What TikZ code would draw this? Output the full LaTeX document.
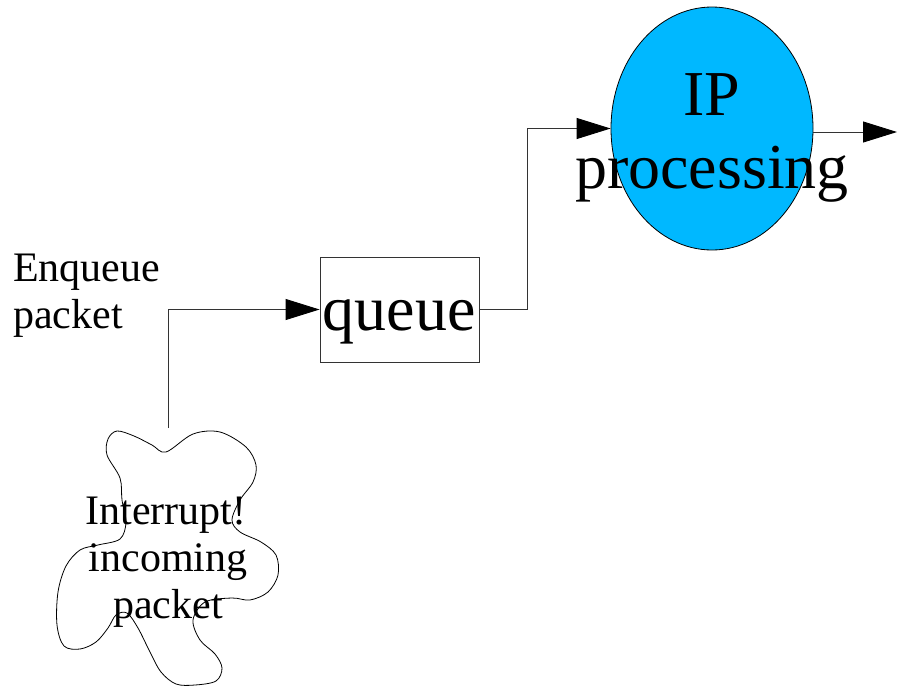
\documentclass[tikz,border=0pt]{standalone}
\usepackage{fontspec}
\setmainfont{Liberation Serif}
\usetikzlibrary{arrows.meta,shapes.geometric}
\definecolor{ipblue}{RGB}{0,184,255}
\begin{document}
\begin{tikzpicture}[x=1pt,y=-1pt,
  bigtext/.style={font=\fontsize{64}{74}\selectfont, inner sep=0pt, anchor=base},
  smalltext/.style={font=\fontsize{42}{47}\selectfont, inner sep=0pt, anchor=base},
  flow/.style={draw=black!80, line width=0.9pt, -{Triangle[length=34pt,width=21pt,color=black,fill=black]}},
  plainflow/.style={draw=black!80, line width=0.9pt}]
\useasboundingbox (0,0) rectangle (897,686);

% processing stage
\node[ellipse, draw=black, line width=0.8pt, fill=ipblue, minimum width=202pt, minimum height=243pt, inner sep=0pt] (ip) at (712,128.5) {};
\node[bigtext] (iplabel1) at (712,115) {IP};
\node[bigtext] (iplabel2) at (712,188) {processing};

% queue box
\node[draw=black!80, line width=0.9pt, minimum width=159pt, minimum height=105pt, inner sep=0pt] (queue) at (399.5,309.5) {};
\node[bigtext] (queuelabel) at (399,330) {queue};

% annotation
\node[smalltext, anchor=base west] (enq1) at (13,281.5) {Enqueue};
\node[smalltext, anchor=base west] (enq2) at (13,328) {packet};

% interrupt cloud
\draw[black, line width=0.8pt] plot[smooth cycle, tension=0.55] coordinates {
  (166,452) (193,434) (220,432) (246,447) (256,465) (253,482) (240,500)
  (232,520) (240,532) (261,542) (276,555) (278,575) (268,592) (250,600)
  (232,598) (205,602) (193,620) (200,640) (215,654) (222,668) (216,681)
  (195,685) (176,684) (161,672) (150,652) (138,628) (127,613) (116,615)
  (108,628) (96,642) (80,649) (64,646) (57,625) (58,592) (66,566)
  (80,550) (98,545) (120,539) (126,522) (122,500) (120,478) (107,455)
  (108,439) (117,431) (134,436) (152,445)};
\node[smalltext] (int1) at (166,524.5) {Interrupt!};
\node[smalltext] (int2) at (168,571.5) {incoming};
\node[smalltext] (int3) at (168,618) {packet};

% connectors
\coordinate (src) at (168,428);
\coordinate (out) at (897,132);
\draw[flow] (src) |- (queue.west);
\draw[flow] (queue.east) -- (527,309.5) |- (ip.west);
\draw[flow] (ip.east |- out) -- (out);
\end{tikzpicture}
\end{document}
